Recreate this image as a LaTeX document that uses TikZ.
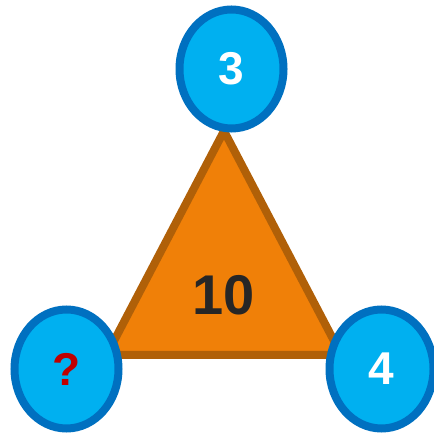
\documentclass[tikz,border=0pt]{standalone}
\usepackage{fontspec}
\setmainfont{Liberation Sans}
\usetikzlibrary{shapes.geometric}
\definecolor{triFill}{RGB}{240,128,8}
\definecolor{triLine}{RGB}{176,96,8}
\definecolor{ballFill}{RGB}{0,176,240}
\definecolor{ballLine}{RGB}{0,112,192}
\definecolor{qRed}{RGB}{192,0,0}
\definecolor{darkTxt}{RGB}{38,38,38}
\tikzset{
  ball/.style={ellipse, draw=ballLine, fill=ballFill, line width=8pt,
    minimum width=104pt, minimum height=119pt, inner sep=0pt,
    font=\fontsize{46}{46}\selectfont\bfseries},
  tri/.style={draw=triLine, fill=triFill, line width=8pt, line join=miter}
}
\begin{document}
\begin{tikzpicture}[x=1pt,y=1pt]
\useasboundingbox (0,0) rectangle (433,433);
\coordinate (A) at (224,302);
\coordinate (B) at (106.6,78);
\coordinate (C) at (341.4,78);
\path[tri] (A) -- (B) -- (C) -- cycle;
\node[text=darkTxt, font=\fontsize{56}{56}\selectfont\bfseries] (sum) at (224,138) {10};
\node[ball, text=white] (top) at (231.5,364) {3};
\node[ball, text=qRed] (left) at (66.5,64) {?};
\node[ball, text=white] (right) at (381.5,64) {4};
\end{tikzpicture}
\end{document}
